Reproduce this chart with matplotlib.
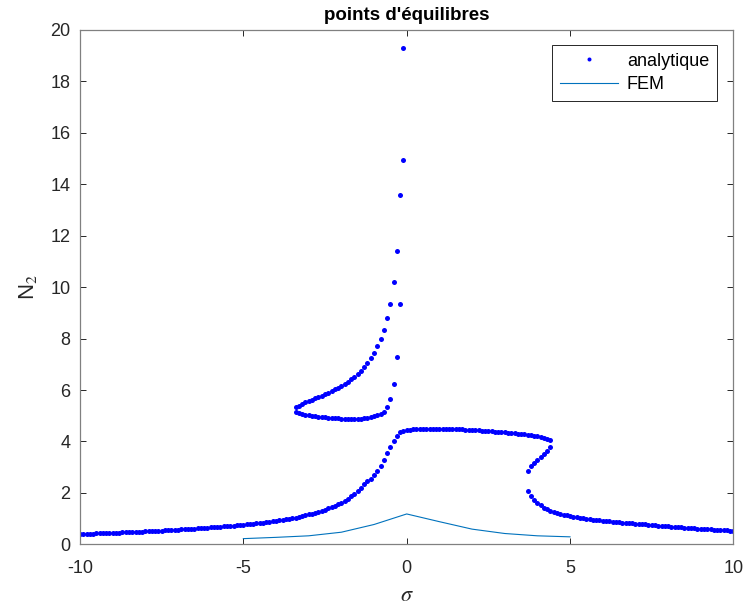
import numpy as np
import matplotlib
matplotlib.use("Agg")
import matplotlib.pyplot as plt

plt.rcParams['font.family'] = ['Liberation Sans', 'DejaVu Sans']
plt.rcParams['mathtext.fontset'] = 'stix'
plt.rcParams['axes.unicode_minus'] = False

# ---- data ----
# main branch, sigma from -10.0 to 4.4 step 0.1
main_sigma_start, main_sigma_end = -10.0, 4.4
main_N2 = [
    0.40, 0.40, 0.41, 0.41, 0.41, 0.42, 0.42, 0.43, 0.43, 0.44,
    0.44, 0.45, 0.45, 0.46, 0.46, 0.47, 0.47, 0.48, 0.49, 0.49,
    0.50, 0.50, 0.51, 0.52, 0.52, 0.53, 0.54, 0.55, 0.55, 0.56,
    0.57, 0.58, 0.59, 0.60, 0.60, 0.61, 0.62, 0.63, 0.64, 0.65,
    0.66, 0.67, 0.68, 0.69, 0.70, 0.71, 0.72, 0.73, 0.74, 0.75,
    0.76, 0.77, 0.78, 0.79, 0.81, 0.82, 0.84, 0.85, 0.87, 0.89,
    0.91, 0.93, 0.95, 0.97, 0.99, 1.01, 1.04, 1.07, 1.10, 1.13,
    1.16, 1.19, 1.23, 1.27, 1.31, 1.35, 1.40, 1.45, 1.50, 1.56,
    1.62, 1.69, 1.77, 1.87, 1.97, 2.08, 2.20, 2.33, 2.45, 2.55,
    2.68, 2.84, 3.05, 3.29, 3.55, 3.80, 4.03, 4.23, 4.35, 4.41,
    4.44, 4.46, 4.47, 4.48, 4.49, 4.49, 4.50, 4.50, 4.50, 4.50,
    4.50, 4.49, 4.49, 4.49, 4.48, 4.48, 4.47, 4.47, 4.46, 4.45,
    4.45, 4.44, 4.43, 4.42, 4.41, 4.40, 4.39, 4.38, 4.37, 4.36,
    4.35, 4.34, 4.33, 4.31, 4.30, 4.29, 4.27, 4.26, 4.24, 4.22,
    4.20, 4.18, 4.15, 4.11, 4.06,
]
# middle (unstable) branch, sigma 3.7 .. 4.4
mid_sigma_start, mid_sigma_end = 3.7, 4.4
mid_N2 = [2.86, 3.03, 3.16, 3.28, 3.39, 3.51, 3.64, 3.78]
# lower right branch, sigma 3.7 .. 10.0
right_sigma_start, right_sigma_end = 3.7, 10.0
right_N2 = [
    2.08, 1.88, 1.72,
    1.61, 1.51, 1.43, 1.37, 1.31, 1.26, 1.22, 1.18, 1.15, 1.12,
    1.09, 1.07, 1.05, 1.03, 1.01, 0.99, 0.97, 0.96, 0.94, 0.93,
    0.91, 0.90, 0.89, 0.87, 0.86, 0.85, 0.84, 0.83, 0.82, 0.81,
    0.80, 0.79, 0.78, 0.77, 0.76, 0.75, 0.74, 0.73, 0.72, 0.71,
    0.70, 0.69, 0.68, 0.67, 0.66, 0.65, 0.64, 0.63, 0.62, 0.61,
    0.60, 0.60, 0.59, 0.58, 0.57, 0.56, 0.55, 0.54, 0.54, 0.53,
    0.52,
]
# isolated loop, sigma -3.4 .. -0.1
loop_sigma_start, loop_sigma_end = -3.4, -0.1
loop_outer_N2 = [
    5.32, 5.39, 5.46, 5.52, 5.57, 5.63, 5.68, 5.73, 5.78, 5.83,
    5.89, 5.95, 6.02, 6.09, 6.16, 6.25, 6.33, 6.42, 6.52, 6.62,
    6.74, 6.88, 7.04, 7.23, 7.45, 7.70, 7.98, 8.33, 8.80, 9.36,
    10.19, 11.40, 13.59, 19.30,
]
loop_inner_N2 = [
    5.13, 5.09, 5.06, 5.03, 5.01, 4.99, 4.97, 4.96, 4.95, 4.94,
    4.93, 4.92, 4.91, 4.90, 4.89, 4.89, 4.88, 4.88, 4.88, 4.89,
    4.89, 4.90, 4.92, 4.94, 4.97, 5.02, 5.08, 5.16, 5.35, 5.65,
    6.22, 7.27, 9.33, 14.95,
]
# FEM
fem_sigma = [-5, -4, -3, -2, -1, 0, 1, 2, 3, 4, 5]
fem_N2 = [0.22, 0.27, 0.33, 0.47, 0.77, 1.18, 0.88, 0.59, 0.42, 0.33, 0.29]

x_ticks = [-10, -5, 0, 5, 10]
y_ticks = [0, 2, 4, 6, 8, 10, 12, 14, 16, 18, 20]


def grid(a, b, vals):
    return np.linspace(a, b, len(vals))


sig_all = np.concatenate([
    grid(main_sigma_start, main_sigma_end, main_N2),
    grid(mid_sigma_start, mid_sigma_end, mid_N2),
    grid(right_sigma_start, right_sigma_end, right_N2),
    grid(loop_sigma_start, loop_sigma_end, loop_outer_N2),
    grid(loop_sigma_start, loop_sigma_end, loop_inner_N2),
])
n_all = np.concatenate([main_N2, mid_N2, right_N2, loop_outer_N2, loop_inner_N2])

fig = plt.figure(figsize=(7.45, 6.07), dpi=100)
ax = fig.add_axes([0.1074, 0.1033, 0.9844 - 0.1074, 0.9506 - 0.1033])

ax.plot(sig_all, n_all, linestyle='none', marker='o', markersize=3.6,
        markeredgewidth=0, color=(0, 0, 1), label='analytique')
ax.plot(fem_sigma, fem_N2, color='#0072BD', linewidth=0.8, label='FEM')

ax.set_xlim(-10, 10)
ax.set_ylim(0, 20)
ax.set_xticks(x_ticks)
ax.set_yticks(y_ticks)
ax.tick_params(direction='in', top=True, right=True, length=4, width=0.7,
               colors='#262626', labelsize=13)
ax.tick_params(axis='y', pad=7)
ax.tick_params(axis='x', pad=11)
for s in ax.spines.values():
    s.set_color('#808080')
    s.set_linewidth(0.9)

ax.set_title("points d'équilibres", fontsize=13.5, fontweight='bold', pad=7)
ax.set_ylabel('N$_2$', fontsize=16, color='#262626', labelpad=8)
ax.set_xlabel(r'$\sigma$', fontsize=16, color='#262626', labelpad=6)

leg = ax.legend(loc='upper right', bbox_to_anchor=(0.989, 0.989), fontsize=13,
                handlelength=3.2, fancybox=False, framealpha=1,
                edgecolor='#262626', borderpad=0.45, labelspacing=0.35,
                handletextpad=0.5, markerscale=0.8)
leg.get_frame().set_linewidth(0.7)

fig.savefig('out.png', dpi=100)
